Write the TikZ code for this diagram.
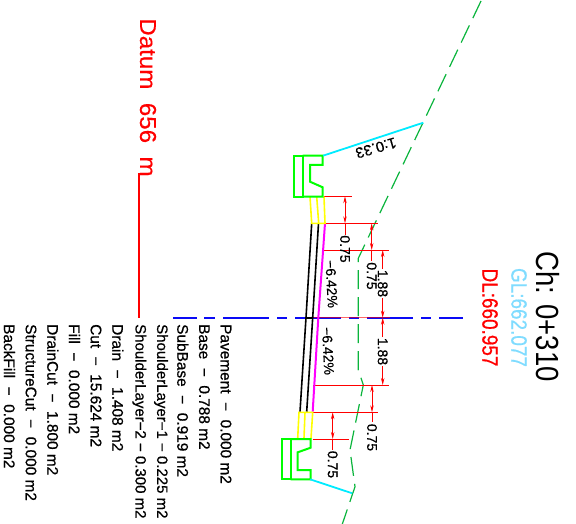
\documentclass[tikz,border=0pt]{standalone}
\usepackage{fontspec}
\setmainfont{Liberation Sans}
\newfontfamily\hv[UprightFeatures={FakeBold=0.35}]{Liberation Sans}
\newfontfamily\hvb[UprightFeatures={FakeBold=0.7}]{Liberation Sans}
\usetikzlibrary{arrows.meta}
\definecolor{cGreen}{RGB}{0,255,0}
\definecolor{cGround}{RGB}{10,180,60}
\definecolor{cYellow}{RGB}{255,255,0}
\definecolor{cMagenta}{RGB}{255,0,255}
\definecolor{cCyan}{RGB}{0,235,255}
\definecolor{cRed}{RGB}{255,0,0}
\definecolor{cCentre}{RGB}{10,10,245}
\definecolor{cSky}{RGB}{128,220,255}
\tikzset{
  lbl/.style={rotate=-90,inner sep=0pt,font=\hv\fontsize{14}{14}\selectfont},
  qty/.style={rotate=-90,inner sep=0pt,anchor=west,font=\hvb\fontsize{15.4}{16}\selectfont},
  big/.style={rotate=-90,inner sep=0pt,font=\hvb\fontsize{22}{22}\selectfont},
  kerbgreen/.style={draw=cGreen,line width=2pt,line join=miter},
  yel/.style={draw=cYellow,line width=1.6pt},
  blk/.style={draw=black,line width=1.6pt},
  mag/.style={draw=cMagenta,line width=2pt},
  cy/.style={draw=cCyan,line width=1.8pt},
  ext/.style={draw=cRed,line width=1pt},
  dim/.style={draw=cRed,line width=.7pt},
  dimarr/.style={dim,{Stealth[length=7pt,width=3.4pt]}-{Stealth[length=7pt,width=3.4pt]}},
  dimtip/.style={dim,-{Stealth[length=7pt,width=3.4pt]}},
  ground/.style={draw=cGround,line width=1.2pt,dash pattern=on 19pt off 8pt},
  datumline/.style={draw=cRed,line width=1.2pt}
}
\begin{document}
\begin{tikzpicture}[x=1pt,y=-1pt]
\useasboundingbox (0,0) rectangle (576,524);
% ground line
\draw[ground] (481,1) -- (358.3,258.3) -- (358.3,370) -- (363.3,385) -- (350,450) -- (355,486.7) -- (342,525);
% centre line
\foreach \a/\b in {173/197,204/215,223/269,277/287,295/341,349/359,367/413,421/431,439/463}
  \fill[cCentre] (\a,316.7) rectangle (\b,318.7);
% extension lines
\coordinate (e1a) at (324.3,196.3); \coordinate (e1b) at (351.7,196.3);
\coordinate (e2a) at (325,223.3);   \coordinate (e2b) at (378.3,223.3);
\coordinate (e3a) at (324,250);     \coordinate (e3b) at (389,250);
\coordinate (e4a) at (313,317.7);   \coordinate (e4b) at (390,317.7);
\coordinate (e5a) at (313,385);     \coordinate (e5b) at (389,385);
\coordinate (e6a) at (313,412.3);   \coordinate (e6b) at (378,412.3);
\coordinate (e7a) at (312.7,439);   \coordinate (e7b) at (349,439);
\draw[ext] (e1a)--(e1b) (e2a)--(e2b) (e3a)--(e3b) (e5a)--(e5b) (e6a)--(e6b) (e7a)--(e7b);
\draw[draw=cRed,opacity=.6,line width=1.5pt] (e4a)--(e4b);
% dimension arrows
\draw[dimarr] (345,196.3) -- (345,223.3);
\draw[dim] (345,223.3) -- (345,235);
\draw[dimarr] (371.7,223.3) -- (371.7,250);
\draw[dim] (371.7,250) -- (371.7,261);
\draw[dimtip] (382.7,269) -- (382.7,250);
\draw[dimtip] (382.7,298) -- (382.7,317.7);
\draw[dimtip] (382.7,337) -- (382.7,317.7);
\draw[dimtip] (382.7,366) -- (382.7,385);
\draw[dimarr] (372,385) -- (372,412.3);
\draw[dim] (372,412.3) -- (372,422);
\draw[dimarr] (332.7,412.3) -- (332.7,439);
\draw[dim] (332.7,439) -- (332.7,450);
% pavement layers
\draw[blk] (311.7,223.3) -- (306,317.7) -- (300,411.7);
\draw[blk] (318.5,223.3) -- (312.7,317.7) -- (306.7,411.7);
\draw[mag] (325,223.3) -- (318.3,317.7) -- (312.7,411.7);
\draw[blk] (306,317.7) -- (312.7,317.7);
% shoulders
\draw[yel] (310,196.7) -- (311.7,223.3) -- (325,223.3) -- (324,196.7) (316.7,196.7) -- (318.7,223.3);
\draw[yel] (297.7,438.3) -- (299,412.3) -- (312.7,412.3) -- (311,438.3) (305,412.3) -- (304,438.3);
% drains
\draw[kerbgreen] (294,155.7) rectangle (302.7,196.7);
\draw[kerbgreen] (302.7,155.7) -- (322.7,155.7) -- (322.7,165) -- (310,165) -- (310,181.7) -- (322.7,187.3) -- (322.7,196.7) -- (302.7,196.7);
\draw[kerbgreen] (281.7,439) rectangle (290.7,479.3);
\draw[kerbgreen] (290.7,439) -- (310.7,439) -- (310.7,447.7) -- (297.7,452.3) -- (297.7,470) -- (310.7,470) -- (310.7,479.3) -- (290.7,479.3);
% slopes
\draw[cy] (323,155.7) -- (423.3,122.7);
\draw[cy] (310,479.3) -- (352.3,493.3);
% datum
\draw[datumline] (139,173) -- (139,317.7);
% labels
\node[inner sep=0pt,rotate=-164,font=\hv\fontsize{15}{15}\selectfont] (slope) at (376,148) {1:0.33};
\node[lbl] (d1) at (345,249) {0.75};
\node[lbl] (d2) at (371.7,276) {0.75};
\node[lbl] (d3) at (382.7,283.5) {1.88};
\node[lbl] (d4) at (382.7,351.5) {1.88};
\node[lbl] (d5) at (372,437.5) {0.75};
\node[lbl] (d6) at (332.7,464.5) {0.75};
\node[lbl,rotate=3] (g1) at (331.5,284) {−6.42\%};
\node[lbl,rotate=3] (g2) at (328,351) {−6.42\%};
\node[big,text=cRed,font=\hv\fontsize{23}{24}\selectfont] (datum) at (148,97.5) {\scalebox{1.05}[1]{Datum\ \ 656\ \ m}};
\node[big,font=\fontsize{32}{32}\selectfont\rmfamily] (ch) at (548,316.5) {\scalebox{.86}[1]{Ch: 0+310}};
\node[big,text=cSky] (gl) at (519,317.5) {\scalebox{.86}[1]{GL:662.077}};
\node[big,text=cRed] (dl) at (490,317.5) {\scalebox{.86}[1]{DL:660.957}};
\node[qty] (q1) at (226,324) {Pavement\ \ −\ \ 0.000 m2};
\node[qty] (q2) at (204.4,324) {Base\ \ −\ \ 0.788 m2};
\node[qty] (q3) at (182.8,324) {SubBase\ \ −\ \ 0.919 m2};
\node[qty,font=\hvb\fontsize{15}{16}\selectfont] (q4) at (161,324) {ShoulderLayer−1 − 0.225 m2};
\node[qty,font=\hvb\fontsize{15}{16}\selectfont] (q5) at (139.4,324) {ShoulderLayer−2 − 0.300 m2};
\node[qty] (q6) at (117.8,324) {Drain\ \ −\ \ 1.408 m2};
\node[qty] (q7) at (96,324) {Cut\ \ −\ \ 15.624 m2};
\node[qty] (q8) at (74.4,324) {Fill\ \ −\ \ 0.000 m2};
\node[qty] (q9) at (52.8,324) {DrainCut\ \ −\ \ 1.800 m2};
\node[qty] (q10) at (31,324) {StructureCut\ \ −\ \ 0.000 m2};
\node[qty] (q11) at (9.4,324) {BackFill\ \ −\ \ 0.000 m2};
\end{tikzpicture}
\end{document}
